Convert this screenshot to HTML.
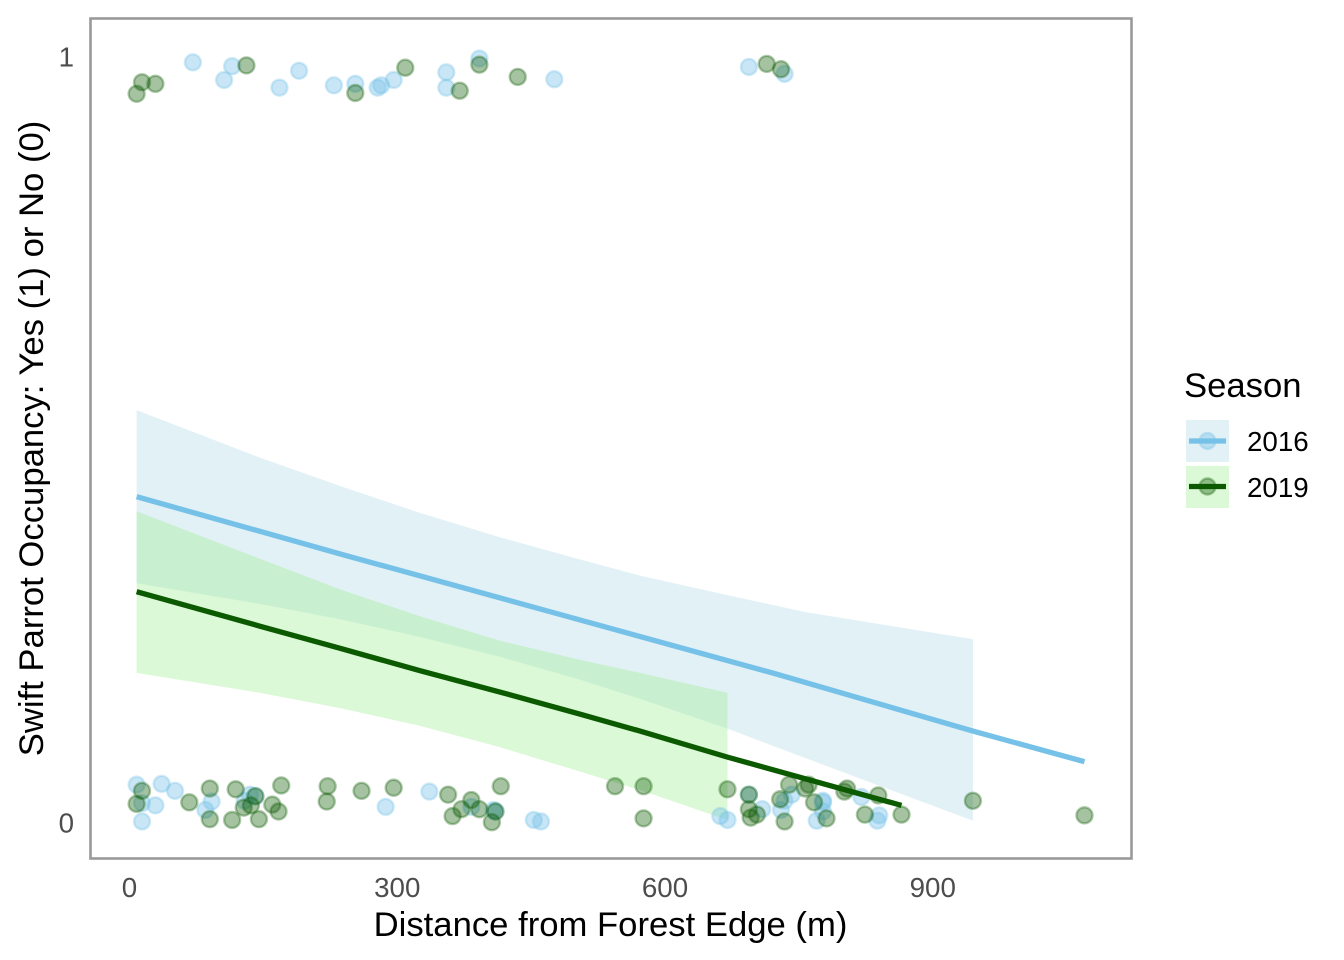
<!DOCTYPE html>
<html lang="en">
<head>
<meta charset="utf-8">
<title>Swift Parrot Occupancy</title>
<style>
html,body{margin:0;padding:0;background:#fff;}
svg{display:block;font-family:"Liberation Sans",Arial,sans-serif;}
</style>
</head>
<body>
<svg id="chart" xmlns="http://www.w3.org/2000/svg" width="1344" height="960" viewBox="0 0 1344 960">
  <rect x="0" y="0" width="1344" height="960" fill="#ffffff"/>
  <g id="ribbons"></g>
  <g id="points"></g>
  <g id="lines"></g>
  <rect x="90.5" y="18.5" width="1041" height="840" fill="none" stroke="#999999" stroke-width="2.6"/>
  <g id="xticks"></g>
  <g id="yticks"></g>
  <text x="610.5" y="936" font-size="34.67" text-anchor="middle" fill="#000">Distance from Forest Edge (m)</text>
  <text transform="translate(43,438.5) rotate(-90)" font-size="34.67" text-anchor="middle" fill="#000">Swift Parrot Occupancy: Yes (1) or No (0)</text>
  <g>
    <text x="1184" y="397" font-size="34.67" fill="#000">Season</text>
    <g>
      <rect x="1186" y="420" width="43" height="42" fill="#e2f1f6"/>
      <circle cx="1207.5" cy="441" r="8" fill="#76c1e8" fill-opacity="0.4" stroke="#76c1e8" stroke-opacity="0.33" stroke-width="2.4"/>
      <line x1="1189" y1="441" x2="1226" y2="441" stroke="#76c1e8" stroke-width="5.3"/>
      <text x="1247" y="451" font-size="27.73" fill="#000">2016</text>
    </g>
    <g>
      <rect x="1186" y="466" width="43" height="42" fill="#dbf9d6"/>
      <circle cx="1207.5" cy="486.5" r="8" fill="#0b5a00" fill-opacity="0.37" stroke="#0b5a00" stroke-opacity="0.33" stroke-width="2.4"/>
      <line x1="1189" y1="486.5" x2="1226" y2="486.5" stroke="#0b5a00" stroke-width="5.3"/>
      <text x="1247" y="497" font-size="27.73" fill="#000">2019</text>
    </g>
  </g>
</svg>
<script>
const xTickValues = [0, 300, 600, 900];
const yTickValues = [0, 1];

const x2016 = [71,106,115,168,190,229,253,278,282,296,355,355,392,476,694,734,
  8,14,29,14,36,51,92,85,135,141,129,287,336,383,408,410,453,461,662,670,694,709,730,734,742,777,777,777,770,820,840,838];
const y2016 = [0.993,0.970,0.988,0.960,0.982,0.963,0.965,0.960,0.963,0.970,0.980,0.960,0.998,0.971,0.987,0.978,
  0.050,0.026,0.023,0.002,0.051,0.042,0.028,0.017,0.037,0.035,0.029,0.021,0.041,0.021,0.017,0.015,0.004,0.002,0.009,0.004,0.037,0.018,0.017,0.029,0.037,0.029,0.027,0.015,0.003,0.034,0.010,0.003];

const x2019 = [8,14,29,131,253,309,370,392,435,714,730,
  14,8,67,90,90,115,119,128,136,141,145,160,167,170,222,221,260,296,357,362,372,383,392,406,410,416,544,576,576,670,694,694,696,703,734,729,739,757,761,767,781,801,804,824,839,865,945,1070];
const y2019 = [0.952,0.967,0.965,0.989,0.953,0.986,0.956,0.990,0.974,0.991,0.984,
  0.042,0.025,0.027,0.045,0.005,0.004,0.044,0.020,0.023,0.035,0.005,0.024,0.015,0.049,0.048,0.028,0.042,0.046,0.037,0.009,0.018,0.030,0.018,0.001,0.015,0.048,0.048,0.048,0.006,0.044,0.037,0.018,0.007,0.011,0.002,0.031,0.050,0.045,0.050,0.027,0.006,0.041,0.045,0.011,0.036,0.011,0.029,0.010];

const fitX2016 = [8,240,480,720,945,1070];
const fit2016 = [0.426,0.350,0.273,0.196,0.120,0.080];
const ribbonX2016 = [8,146,236,325,415,505,572,668,759,945];
const upper2016 = [0.539,0.477,0.440,0.405,0.373,0.344,0.323,0.298,0.275,0.240];
const lower2016 = [0.313,0.286,0.266,0.243,0.217,0.187,0.162,0.124,0.084,0.003];

const fitX2019 = [8,146,236,325,415,505,572,670];
const ribbonX2019 = [8,146,236,325,415,505,572,670];
const fit2019 = [0.302,0.257,0.228,0.199,0.171,0.142,0.120,0.086];
const upper2019 = [0.407,0.345,0.305,0.270,0.238,0.213,0.196,0.170];
const lower2019 = [0.196,0.170,0.150,0.127,0.099,0.067,0.043,0.004];
const fitEndX2019 = [670,865];
const fitEnd2019 = [0.086,0.023];

const SVGNS = 'http://www.w3.org/2000/svg';
const xScale = v => 129.5 + v * 0.8925;
const yScale = v => 823 - v * 766;
const linePath = (xs, ys) => xs.map((v, i) => (i ? 'L' : 'M') + xScale(v).toFixed(2) + ' ' + yScale(ys[i]).toFixed(2)).join(' ');

function drawRibbon(xs, hi, lo, color, name) {
  const rev = xs.slice().reverse();
  const el = document.createElementNS(SVGNS, 'path');
  
  
  el.setAttribute('d', linePath(xs, hi) + ' ' + linePath(rev, lo.slice().reverse()).replace('M', 'L') + ' Z');
  el.setAttribute('fill', color);
  el.setAttribute('fill-opacity', '0.35');
  document.getElementById('ribbons').appendChild(el);
}

function drawLine(xs, ys, color, name) {
  const el = document.createElementNS(SVGNS, 'path');
  
  
  el.setAttribute('d', linePath(xs, ys));
  el.setAttribute('fill', 'none');
  el.setAttribute('stroke', color);
  el.setAttribute('stroke-width', '5.3');
  document.getElementById('lines').appendChild(el);
}

function drawPoints(xs, ys, color, alpha, name) {
  xs.forEach((v, i) => {
    const c = document.createElementNS(SVGNS, 'circle');
    
    
    c.setAttribute('cx', xScale(v).toFixed(2));
    c.setAttribute('cy', yScale(ys[i]).toFixed(2));
    c.setAttribute('r', '8');
    c.setAttribute('fill', color);
    c.setAttribute('fill-opacity', alpha);
    c.setAttribute('stroke', color);
    c.setAttribute('stroke-opacity', '0.33');
    c.setAttribute('stroke-width', '2.4');
    document.getElementById('points').appendChild(c);
  });
}

drawRibbon(ribbonX2016, upper2016, lower2016, '#adD8e6', 'ribbon-2016');
drawRibbon(ribbonX2019, upper2019, lower2019, '#98ee8a', 'ribbon-2019');
drawPoints(x2016, y2016, '#76c1e8', '0.4', 'point-2016');
drawPoints(x2019, y2019, '#0b5a00', '0.37', 'point-2019');
drawLine(fitX2016, fit2016, '#76c1e8', 'trend-line-2016');
drawLine(fitX2019.concat(fitEndX2019.slice(1)), fit2019.concat(fitEnd2019.slice(1)), '#0b5a00', 'trend-line-2019');

xTickValues.forEach(v => {
  const t = document.createElementNS(SVGNS, 'text');
  
  
  t.setAttribute('x', xScale(v));
  t.setAttribute('y', 897);
  t.setAttribute('font-size', '27.73');
  t.setAttribute('text-anchor', 'middle');
  t.setAttribute('fill', '#4d4d4d');
  t.textContent = v;
  document.getElementById('xticks').appendChild(t);
});

yTickValues.forEach(v => {
  const t = document.createElementNS(SVGNS, 'text');
  
  
  t.setAttribute('x', 74);
  t.setAttribute('y', yScale(v) + 9.5);
  t.setAttribute('font-size', '27.73');
  t.setAttribute('text-anchor', 'end');
  t.setAttribute('fill', '#4d4d4d');
  t.textContent = v;
  document.getElementById('yticks').appendChild(t);
});
</script>
</body>
</html>
